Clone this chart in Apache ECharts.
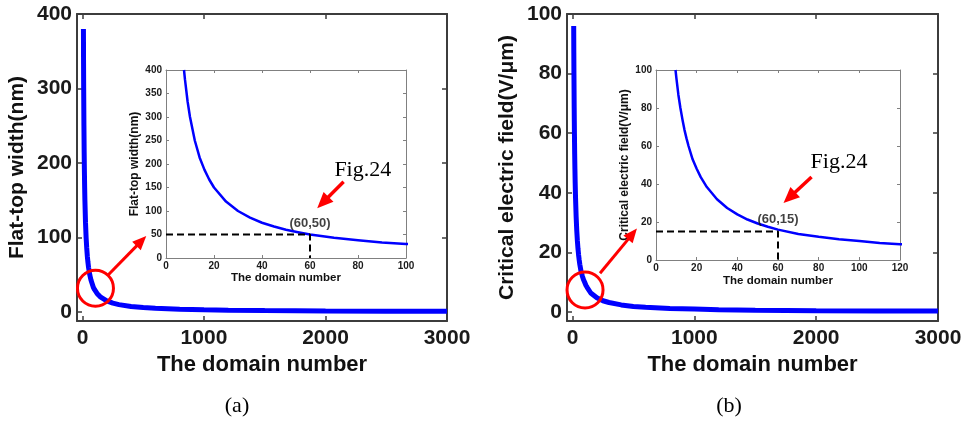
<!DOCTYPE html>
<html>
<head>
<meta charset="utf-8">
<script src="https://cdn.jsdelivr.net/npm/echarts@6/dist/echarts.min.js"></script>
<style>
  html, body { margin: 0; padding: 0; background: #fff; }
  #chart { width: 972px; height: 422px; }
</style>
</head>
<body>
<div id="chart"></div>
<script>
// Panel (a): flat-top width (nm) against the domain number
const domainA = [7.5, 7.9, 9, 10, 12, 14, 16, 18, 20, 25, 30, 35, 40, 45, 50, 55, 60, 70, 80, 90,
                 100, 120, 150, 200, 250, 300, 400, 500, 600, 800, 1000, 1200, 1500, 2000, 2500, 3000];
const widthA = [400, 380, 333, 300, 250, 214, 188, 167, 150, 120, 100, 86, 75, 67, 60, 55, 50, 43, 38, 33,
                30, 25, 20, 15, 12, 10, 7.5, 6, 5, 3.8, 3, 2.5, 2, 1.5, 1.2, 1];
const pointA = [60, 50];

// Panel (b): critical electric field (V/μm) against the domain number
const domainB = [9.6, 10, 11, 12, 13, 14, 15, 16, 18, 20, 22, 25, 30, 35, 40, 45, 50, 55, 60, 70,
                 80, 90, 100, 110, 120, 150, 200, 250, 300, 400, 500, 600, 800, 1000, 1200, 1500, 2000, 2500, 3000];
const fieldB = [100, 96, 87, 80, 74, 68.5, 64, 60, 53, 48, 43.6, 38.4, 32, 27.4, 24, 21.3, 19.2, 17.5, 16, 13.7,
                12.2, 10.9, 10, 9, 8.3, 6.4, 4.8, 3.8, 3.2, 2.4, 1.9, 1.6, 1.2, 1.0, 0.8, 0.64, 0.48, 0.38, 0.32];
const pointB = [60, 15];

const SANS = '"Liberation Sans", Arial, sans-serif';
const SERIF = '"Liberation Serif", "Times New Roman", serif';

const zip = (xs, ys) => xs.map((x, i) => [x, ys[i]]);
const dashedTo = p => [[0, p[1]], [p[0], p[1]], [p[0], 0]];

// Main axes: thick dark frame, ticks pointing inward on all four sides
const mainStyle = { line: '#3c3c3c', lineWidth: 2, tick: 5, tickWidth: 1.5,
  labelSize: 21, labelMargin: 5, xLabelMargin: 7, nameSize: 22, yNameSize: 21 };
// Inset axes: thin grey frame, small labels
const insetStyle = { line: '#808080', lineWidth: 1, tick: 3, tickWidth: 1,
  labelSize: 10, labelMargin: 4, xLabelMargin: 3, nameSize: 11.5, yNameSize: 12 };

function axisPair(dim, gridIndex, min, max, step, st, name, nameGap) {
  const base = {
    type: 'value', gridIndex, min, max,
    splitLine: { show: false },
    axisLine: { show: true, onZero: false, lineStyle: { color: st.line, width: st.lineWidth } },
    axisTick: { show: true, inside: true, length: st.tick, lineStyle: { color: st.line, width: st.tickWidth } }
  };
  if (min % step === 0) base.interval = step; else base.splitNumber = Math.round((max - min) / step);
  const primary = Object.assign({}, base, {
    position: dim === 'x' ? 'bottom' : 'left',
    name, nameLocation: 'middle', nameGap,
    nameTextStyle: { fontFamily: SANS, fontSize: dim === 'x' ? st.nameSize : st.yNameSize,
      fontWeight: 'bold', color: '#111' },
    axisLabel: {
      show: true, fontFamily: SANS, fontSize: st.labelSize, fontWeight: 'bold', color: '#1a1a1a',
      margin: dim === 'x' ? st.xLabelMargin : st.labelMargin,
      showMinLabel: min >= 0, formatter: v => (v < 0 ? '' : String(v))
    }
  });
  const mirror = Object.assign({}, base, {
    position: dim === 'x' ? 'top' : 'right',
    axisLabel: { show: false }
  });
  return [primary, mirror];
}

const xAxes = [
  ...axisPair('x', 0, -45, 3000, 1000, mainStyle, 'The domain number', 30),
  ...axisPair('x', 1, 0, 100, 20, insetStyle, 'The domain number', 14),
  ...axisPair('x', 2, -45, 3000, 1000, mainStyle, 'The domain number', 30),
  ...axisPair('x', 3, 0, 120, 20, insetStyle, 'The domain number', 15)
];
const yAxes = [
  ...axisPair('y', 0, -12, 400, 100, mainStyle, 'Flat-top width(nm)', 49),
  ...axisPair('y', 1, 0, 400, 50, insetStyle, 'Flat-top width(nm)', 25),
  ...axisPair('y', 2, -3, 100, 20, mainStyle, 'Critical electric field(V/μm)', 49),
  ...axisPair('y', 3, 0, 100, 20, insetStyle, 'Critical electric field(V/μm)', 25)
];

const blue = '#0000ff';
function curve(axisIdx, data, width) {
  return { type: 'line', xAxisIndex: axisIdx, yAxisIndex: axisIdx, data, showSymbol: false,
    symbol: 'none', clip: true, silent: true, lineStyle: { color: blue, width }, z: 3 };
}
function dashed(axisIdx, p) {
  return { type: 'line', xAxisIndex: axisIdx, yAxisIndex: axisIdx, data: dashedTo(p), symbol: 'none',
    silent: true, lineStyle: { color: '#000', width: 2, type: [7, 4] }, z: 4 };
}
function pointLabel(axisIdx, p, dist) {
  return { type: 'scatter', xAxisIndex: axisIdx, yAxisIndex: axisIdx, data: [p], symbolSize: 0, silent: true,
    label: { show: true, position: 'top', distance: dist, formatter: '(' + p[0] + ',' + p[1] + ')',
      fontFamily: SANS, fontSize: 13, fontWeight: 'bold', color: '#111' }, z: 5 };
}

const chart = echarts.init(document.getElementById('chart'), null, { renderer: 'canvas' });
chart.setOption({
  animation: false,
  backgroundColor: '#fff',
  grid: [
    { left: 77, top: 14, width: 370, height: 307 },
    { left: 166, top: 70, width: 240, height: 188, show: true, backgroundColor: '#fff', borderWidth: 0 },
    { left: 567, top: 14, width: 371, height: 307 },
    { left: 656, top: 70, width: 244, height: 190, show: true, backgroundColor: '#fff', borderWidth: 0 }
  ],
  xAxis: xAxes,
  yAxis: yAxes,
  series: [
    curve(0, zip(domainA, widthA).slice(1), 5),
    curve(2, zip(domainA, widthA), 2.5),
    dashed(2, pointA),
    pointLabel(2, pointA, 5),
    curve(4, zip(domainB, fieldB).slice(1), 5),
    curve(6, zip(domainB, fieldB), 2.5),
    dashed(6, pointB),
    pointLabel(6, pointB, 6)
  ]
});

// Annotations: red circles, red arrows, "Fig.24" callouts and panel captions
function px(gridIndex, v) { return chart.convertToPixel({ gridIndex }, v); }
function arrow(p0, p1, headLen, headW, lw) {
  const dx = p1[0] - p0[0], dy = p1[1] - p0[1], L = Math.hypot(dx, dy);
  const ux = dx / L, uy = dy / L, nx = -uy, ny = ux;
  const b = [p1[0] - ux * headLen, p1[1] - uy * headLen];
  return [
    { type: 'line', z: 100, shape: { x1: p0[0], y1: p0[1], x2: b[0] + ux * 2, y2: b[1] + uy * 2 },
      style: { stroke: '#ff0000', lineWidth: lw } },
    { type: 'polygon', z: 100, shape: { points: [p1, [b[0] + nx * headW / 2, b[1] + ny * headW / 2],
      [b[0] - nx * headW / 2, b[1] - ny * headW / 2]] }, style: { fill: '#ff0000' } }
  ];
}
function ring(c, r) {
  return { type: 'circle', z: 100, shape: { cx: c[0], cy: c[1], r },
    style: { fill: 'transparent', stroke: '#ff0000', lineWidth: 3 } };
}
function label(p, text, font, size) {
  return { type: 'text', z: 100, x: p[0], y: p[1],
    style: { text, font: size + 'px ' + font, fill: '#000', align: 'center', verticalAlign: 'middle' } };
}

const g = [];
// panel (a)
g.push(ring(px(0, [107, 32]), 18));
g.push(...arrow(px(0, [213, 50]), px(0, [525, 102]), 14, 12, 3));
g.push(...arrow(px(1, [74, 162]), px(1, [63, 106]), 16, 14, 3.5));
g.push(label(px(1, [82, 187]), 'Fig.24', SERIF, 22));
// panel (b)
g.push(ring(px(2, [103, 7.4]), 18));
g.push(...arrow(px(2, [226, 13]), px(2, [529, 28]), 14, 12, 3));
g.push(...arrow(px(3, [76.5, 43.7]), px(3, [62.7, 30]), 16, 14, 3.5));
g.push(label(px(3, [90, 51.6]), 'Fig.24', SERIF, 22));
// captions
g.push(label([237, 406], '(a)', SERIF, 22));
g.push(label([729, 406], '(b)', SERIF, 22));

chart.setOption({ graphic: g });
</script>
</body>
</html>
